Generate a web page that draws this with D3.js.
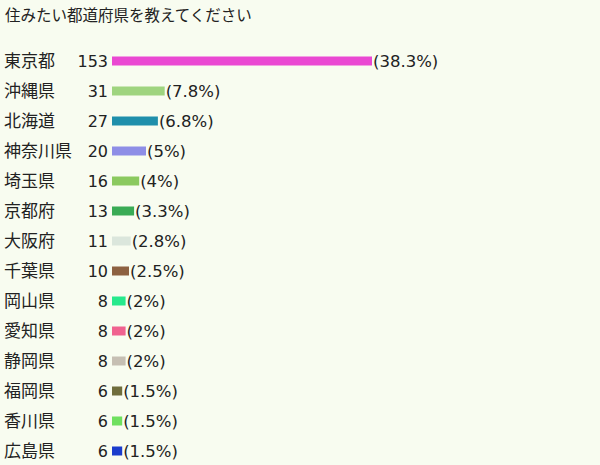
<!DOCTYPE html>
<html lang="ja">
<head>
<meta charset="UTF-8">
<title>住みたい都道府県</title>
<script src="https://d3js.org/d3.v7.min.js"></script>
<style>
  body { margin: 0; background: #f8fcf0; }
  text { font-family: "Noto Sans CJK JP", "Noto Sans", sans-serif; fill: #222; }
  text.num { font-family: "DejaVu Sans", "Noto Sans CJK JP", sans-serif; }
</style>
</head>
<body>
<script>
    var prefectures = ["東京都", "沖縄県", "北海道", "神奈川県", "埼玉県", "京都府", "大阪府",
        "千葉県", "岡山県", "愛知県", "静岡県", "福岡県", "香川県", "広島県"];
    var votes = [153, 31, 27, 20, 16, 13, 11, 10, 8, 8, 8, 6, 6, 6];
    var shares = ["38.3%", "7.8%", "6.8%", "5%", "4%", "3.3%", "2.8%", "2.5%",
        "2%", "2%", "2%", "1.5%", "1.5%", "1.5%"];
    var barColors = ["#ea48d2", "#9fd47f", "#1f8fab", "#8e8ee6", "#8bc95f", "#3aab55", "#dbe6dc",
        "#8d6141", "#27e98c", "#f0628f", "#c6bfb3", "#6f6d3c", "#6fe05f", "#1a3ccc"];

    var W = 600, H = 465;
    var svg = d3.select("body").append("svg")
        .attr("width", W)
        .attr("height", H)
        .style("display", "block");

    svg.append("rect").attr("width", W).attr("height", H).attr("fill", "#f8fcf0");

    // title
    svg.append("text")
        .attr("x", 5)
        .attr("y", 21)
        .style("font-size", "15.5px")
        .text("住みたい都道府県を教えてください");

    var x = d3.scaleLinear().domain([0, 153]).range([0, 260]);
    var y = d3.scaleBand()
        .domain(d3.range(prefectures.length))
        .range([46, 466])
        .paddingInner(0);

    var barLeft = 112;

    var rows = svg.selectAll("g.row")
        .data(prefectures)
        .enter()
        .append("g")
        .attr("class", "row")
        .attr("transform", function(d, i) { return "translate(0," + (y(i) + y.bandwidth() / 2) + ")"; });

    rows.append("text")
        .attr("x", 4)
        .attr("dy", "0.37em")
        .style("font-size", "17px")
        .text(function(d) { return d; });

    rows.append("text")
        .attr("class", "num")
        .attr("x", barLeft - 4)
        .attr("dy", "0.36em")
        .attr("text-anchor", "end")
        .style("font-size", "16px")
        .text(function(d, i) { return votes[i]; });

    rows.append("rect")
        .attr("x", barLeft)
        .attr("y", -4.5)
        .attr("width", function(d, i) { return x(votes[i]); })
        .attr("height", 9)
        .attr("fill", function(d, i) { return barColors[i]; });

    rows.append("text")
        .attr("class", "num")
        .attr("x", function(d, i) { return barLeft + x(votes[i]) + 1; })
        .attr("dy", "0.36em")
        .style("font-size", "16.5px")
        .text(function(d, i) { return "(" + shares[i] + ")"; });
</script>
</body>
</html>
